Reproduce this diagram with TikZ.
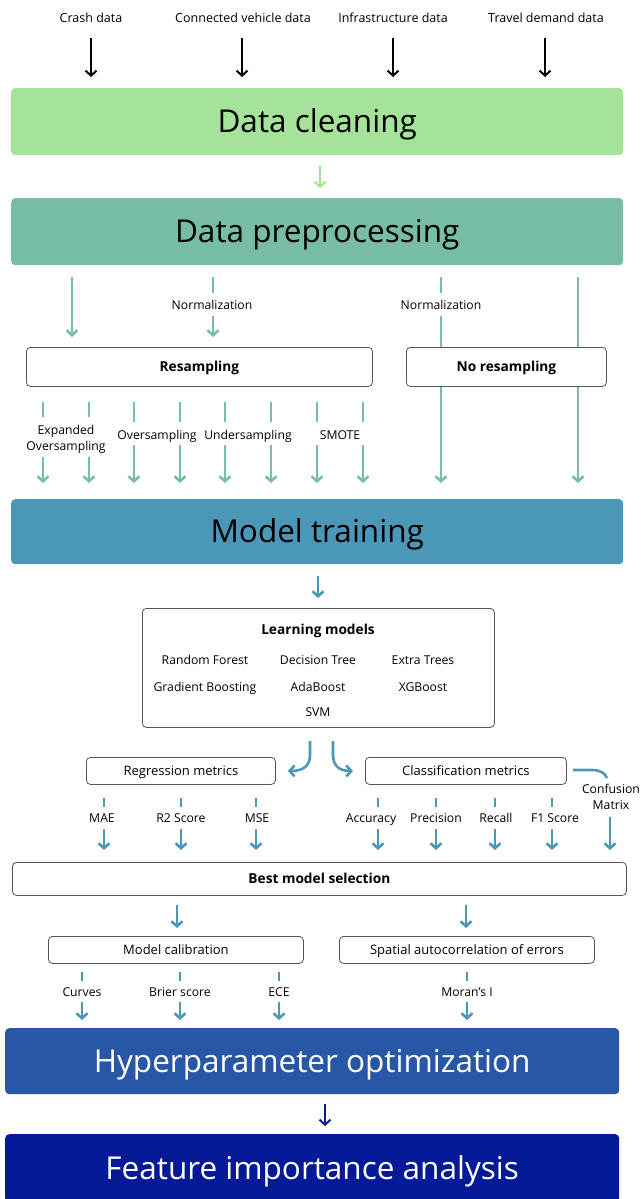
\documentclass[tikz,border=0pt]{standalone}
\usepackage{fontspec}
\setmainfont{Open Sans}
\usetikzlibrary{arrows.meta,calc}
\definecolor{cgreen}{HTML}{A6E39A}
\definecolor{cteal}{HTML}{77BDA4}
\definecolor{cblue}{HTML}{4A97B7}
\definecolor{chyper}{HTML}{2857A8}
\definecolor{cfeat}{HTML}{061996}
\definecolor{cbord}{HTML}{555555}
\tikzset{
  big/.style={rounded corners=4pt, inner sep=0pt, anchor=north west, font=\fontsize{31.5}{36}\selectfont, text height=22.5pt, text depth=0pt},
  wbox/.style={draw=cbord, line width=0.8pt, rounded corners=4pt, fill=white, inner sep=0pt, anchor=north west, font=\fontsize{13}{15}\selectfont, text height=9.3pt, text depth=0pt},
  bwbox/.style={wbox, font=\bfseries\fontsize{13.7}{16}\selectfont, text height=9.8pt},
  lbl/.style={inner sep=0pt, font=\fontsize{12.5}{15}\selectfont, text height=8.9pt, text depth=0pt},
  slbl/.style={inner sep=0pt, font=\fontsize{12.2}{16.5}\selectfont, align=center, text height=8.7pt, text depth=0pt},
  mlbl/.style={inner sep=0pt, font=\fontsize{12.2}{16.5}\selectfont, align=center, anchor=base},
  tip/.style={-{Straight Barb[length=5pt,width=11pt]}},
  blk/.style={line width=2pt, black, tip},
  grn/.style={line width=2pt, cgreen, tip},
  tl/.style={line width=2.6pt, cteal},
  bl/.style={line width=2.6pt, cblue},
  nv/.style={line width=2pt, cfeat, tip},
}
\begin{document}
\begin{tikzpicture}[x=1pt,y=-1pt]
\useasboundingbox (0,0) rectangle (641,1199);

% ---------- inputs
\node[lbl] (i1) at (91,18) {Crash data};
\node[lbl] (i2) at (243,18) {Connected vehicle data};
\node[lbl] (i3) at (393,18) {Infrastructure data};
\node[lbl] (i4) at (546,18) {Travel demand data};

% ---------- big boxes
\node[big, fill=cgreen, minimum width=612pt, minimum height=67pt] (dc) at (11,88) {Data cleaning};
\node[big, fill=cteal, minimum width=612pt, minimum height=67pt] (dp) at (11,198) {Data preprocessing};
\node[big, fill=cblue, minimum width=612pt, minimum height=65pt] (mt) at (11,499) {Model training};
\node[big, fill=chyper, text=white, minimum width=614pt, minimum height=66pt] (ho) at (5,1028) {Hyperparameter optimization};
\node[big, fill=cfeat, text=white, minimum width=614pt, minimum height=68pt] (fi) at (5,1134) {Feature importance analysis};

% ---------- input arrows
\foreach \n/\x in {i1/91,i2/242,i3/393,i4/545}{
  \coordinate (s\n) at (\x,38);
  \draw[blk, shorten >=11pt] (s\n) -- (s\n |- dc.north);
}
\coordinate (g1) at (320,166);
\draw[grn, shorten >=10pt] (g1) -- (g1 |- dp.north);

% ---------- resampling boxes
\node[bwbox, minimum width=346pt, minimum height=39pt] (rs) at (26,347) {Resampling};
\node[bwbox, minimum width=200pt, minimum height=39pt] (nr) at (406,347) {No resampling};

\node[slbl] (n1) at (212,305) {Normalization};
\node[slbl] (n2) at (441,305) {Normalization};

\coordinate (p1) at (72,277);
\draw[tl, tip, shorten >=10pt] (p1) -- (p1 |- rs.north);
\coordinate (p2) at (213,277);
\coordinate (p2b) at (213,293);
\coordinate (p2c) at (213,316);
\draw[tl] (p2) -- (p2b);
\draw[tl, tip, shorten >=10pt] (p2c) -- (p2c |- rs.north);
\coordinate (p3) at (441,277);
\coordinate (p3b) at (441,293);
\coordinate (p3c) at (441,316);
\draw[tl] (p3) -- (p3b);
\draw[tl] (p3c) -- (p3c |- nr.north);
\draw[tl, tip, shorten >=16pt] (p3c |- nr.south) -- (p3c |- mt.north);
\coordinate (p4) at (578,277);
\draw[tl] (p4) -- (p4 |- nr.north);
\draw[tl, tip, shorten >=16pt] (p4 |- nr.south) -- (p4 |- mt.north);

% sampling methods
\node[mlbl] (m1) at (66,450.5) {Expanded\\Oversampling};
\node[slbl] (m2) at (157,435) {Oversampling};
\node[slbl] (m3) at (248,435) {Undersampling};
\node[slbl] (m4) at (340,435) {SMOTE};
\foreach \x/\a/\b in {43/417/457, 89/417/457, 134/422/445, 180/422/445, 225/422/445, 271/422/445, 317/422/445, 363/422/445}{
  \coordinate (ta\x) at (\x,402);
  \coordinate (tb\x) at (\x,\a);
  \coordinate (tc\x) at (\x,\b);
  \draw[tl] (ta\x) -- (tb\x);
  \draw[tl, tip, shorten >=16pt] (tc\x) -- (tc\x |- mt.north);
}

% ---------- learning models
\node[wbox, minimum width=352pt, minimum height=119pt] (lm) at (142,608) {};
\coordinate (b1) at (318,576);
\draw[bl, tip, shorten >=10pt] (b1) -- (b1 |- lm.north);
\node[lbl, font=\bfseries\fontsize{13.7}{16}\selectfont, text height=9.8pt] (lmt) at (318,630) {Learning models};
\node[slbl] (lm1) at (205,660) {Random Forest};
\node[slbl] (lm2) at (318,660) {Decision Tree};
\node[slbl] (lm3) at (423,660) {Extra Trees};
\node[slbl] (lm4) at (205,687) {Gradient Boosting};
\node[slbl] (lm5) at (318,687) {AdaBoost};
\node[slbl] (lm6) at (423,687) {XGBoost};
\node[slbl] (lm7) at (318,712) {SVM};

% ---------- metrics boxes
\node[wbox, minimum width=189pt, minimum height=27pt] (rg) at (86,757) {Regression metrics};
\node[wbox, minimum width=201pt, minimum height=27pt] (cl) at (365,757) {Classification metrics};

\coordinate (c1) at (310,741);
\coordinate (c2) at (333,741);
\draw[bl, tip] (c1) -- (310,755) .. controls (310,767) and (302,771) .. ($(rg.east)+(12,0)$);
\draw[bl, tip] (c2) -- (333,755) .. controls (333,767) and (341,771) .. ($(cl.west)+(-12,0)$);
\coordinate (cm0) at (573,770);
\draw[bl] (cm0) -- (592,770) .. controls (600,770) and (605,773) .. (607,778);
\node[mlbl] (cm) at (611,809.5) {Confusion\\Matrix};

\foreach \n/\t/\x/\xs in {e1/MAE/102/104, e2/R2 Score/181/181, e3/MSE/257/256, e4/Accuracy/371/378, e5/Precision/436/436, e6/Recall/496/495, e7/F1 Score/555/552}{
  \node[slbl] (\n) at (\x,818) {\t};
  \coordinate (\n a) at (\xs,798);
  \coordinate (\n b) at (\xs,807);
  \coordinate (\n c) at (\xs,829);
  \draw[bl] (\n a) -- (\n b);
}

% ---------- best model selection
\node[bwbox, minimum width=614pt, minimum height=33pt] (bm) at (12,862) {Best model selection};
\foreach \n in {e1,e2,e3,e4,e5,e6,e7}{
  \draw[bl, tip, shorten >=12pt] (\n c) -- (\n c |- bm.north);
}
\coordinate (cmc) at (610,817);
\draw[bl, tip, shorten >=12pt] (cmc) -- (cmc |- bm.north);

% ---------- calibration / spatial
\node[wbox, minimum width=255pt, minimum height=27pt] (mc) at (48,936) {Model calibration};
\node[wbox, minimum width=255pt, minimum height=27pt] (sa) at (339,936) {Spatial autocorrelation of errors};
\coordinate (bs1) at (177,905);
\coordinate (bs2) at (466,905);
\draw[bl, tip, shorten >=8pt] (bs1) -- (bs1 |- mc.north);
\draw[bl, tip, shorten >=8pt] (bs2) -- (bs2 |- sa.north);

\foreach \n/\t/\x in {f1/Curves/82, f2/Brier score/180, f3/ECE/279, f4/Moran’s I/467}{
  \node[slbl] (\n) at (\x,992) {\t};
  \coordinate (\n a) at (\x,972);
  \coordinate (\n b) at (\x,981);
  \coordinate (\n c) at (\x,1002);
  \draw[bl] (\n a) -- (\n b);
  \draw[bl, tip, shorten >=8pt] (\n c) -- (\n c |- ho.north);
}

% ---------- final arrow
\coordinate (h1) at (325,1104);
\draw[nv, shorten >=8pt] (h1) -- (h1 |- fi.north);

\end{tikzpicture}
\end{document}
